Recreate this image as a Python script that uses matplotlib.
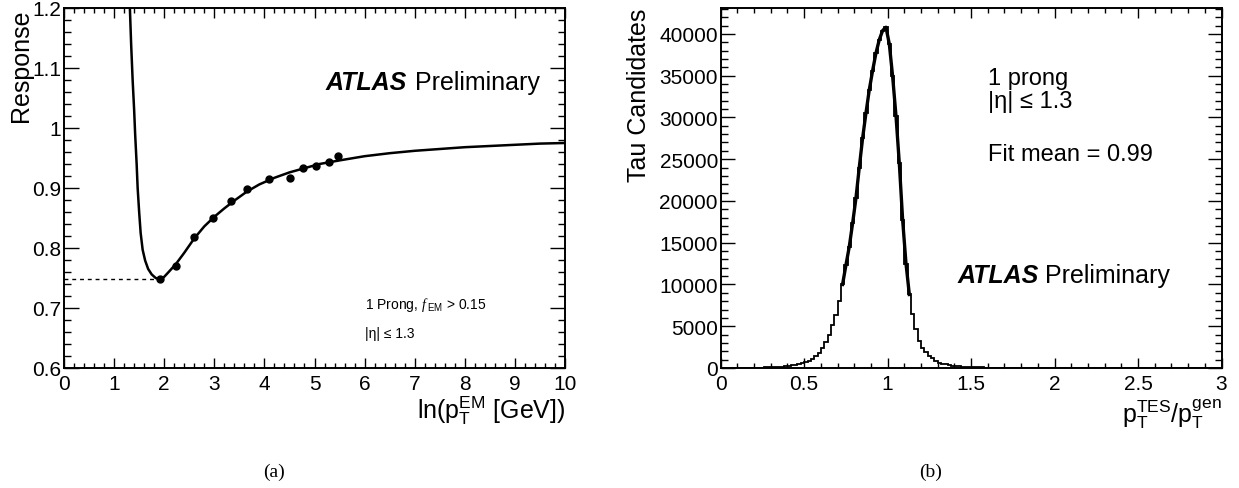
import numpy as np
import matplotlib
matplotlib.use("Agg")
import matplotlib.pyplot as plt
from matplotlib.ticker import MultipleLocator, FormatStrFormatter

plt.rcParams['font.family'] = ['Liberation Sans', 'DejaVu Sans']
plt.rcParams['mathtext.fontset'] = 'custom'
plt.rcParams['mathtext.rm'] = 'Liberation Sans'
plt.rcParams['mathtext.it'] = 'Liberation Serif:italic'

# ---- panel (a): response vs ln(pT EM) ----
fit_x = [1.315, 1.34, 1.37, 1.40, 1.42, 1.45, 1.47, 1.50, 1.53, 1.57, 1.62, 1.68,
         1.75, 1.83, 1.92, 2.00, 2.10, 2.24, 2.40, 2.60, 2.80, 3.00, 3.20, 3.40,
         3.65, 3.90, 4.20, 4.50, 4.80, 5.10, 5.50, 6.00, 6.50, 7.00, 7.50, 8.00,
         8.50, 9.00, 9.50, 10.0]
fit_y = [1.20, 1.14, 1.08, 1.03, 0.99, 0.94, 0.90, 0.86, 0.825, 0.797, 0.779, 0.765,
         0.756, 0.750, 0.7475, 0.752, 0.761, 0.774, 0.792, 0.816, 0.836, 0.852, 0.866, 0.879,
         0.894, 0.906, 0.917, 0.926, 0.933, 0.940, 0.946, 0.953, 0.958, 0.962, 0.965, 0.968,
         0.970, 0.972, 0.974, 0.975]

pts_x = [1.92, 2.24, 2.60, 2.98, 3.33, 3.65, 4.10, 4.51, 4.78, 5.03, 5.28, 5.47]
pts_y = [0.748, 0.770, 0.818, 0.850, 0.878, 0.898, 0.915, 0.917, 0.933, 0.937, 0.943, 0.954]

min_x = 1.92
min_y = 0.748

# ---- panel (b): pT(TES)/pT(gen) histogram, bin width 0.02 from 0 to 3 ----
counts = [0, 0, 0, 0, 0, 2, 5, 10, 15, 20,
          28, 35, 45, 60, 75, 90, 110, 140, 175, 220,
          270, 330, 400, 480, 580, 700, 870, 1100, 1420, 1850,
          2400, 3100, 4000, 5100, 6400, 8000, 10000, 12300, 14500, 17300,
          20300, 24000, 27500, 30500, 33300, 35600, 37700, 39300, 40400, 40800,
          38800, 34900, 30200, 24500, 17700, 12500, 8800, 6470, 4680, 3270,
          2360, 1880, 1470, 1160, 880, 650, 520, 420, 350, 290,
          240, 200, 170, 140, 120, 100, 85, 70, 60, 50,
          45, 40, 35, 30, 26, 22, 19, 16, 14, 12,
          10, 9, 8, 7, 6, 5, 5, 4, 4, 3,
          3, 3, 2, 2, 2, 2, 1, 1, 1, 1] + [0] * 40
fit_first, fit_last = 36, 56   # bins covered by the gaussian fit

W, H = 1239, 489
fig = plt.figure(figsize=(W / 100, H / 100), dpi=100)

def style_axes(ax, ylen):
    ax.tick_params(which='both', direction='in', top=True, right=True,
                   labelsize=15, width=1.0, color='black')
    ax.tick_params(axis='x', which='major', length=7.2, pad=4)
    ax.tick_params(axis='x', which='minor', length=3.6)
    ax.tick_params(axis='y', which='major', length=ylen, pad=2)
    ax.tick_params(axis='y', which='minor', length=ylen / 2)
    for s in ax.spines.values():
        s.set_linewidth(1.4)

# panel (a)
ax1 = fig.add_axes([64 / W, 1 - 369 / H, 501 / W, 360 / H])
ax1.plot([0, min_x], [min_y, min_y], color='black', lw=1.0, ls=(0, (2.8, 2.8)))
ax1.plot(fit_x, fit_y, color='black', lw=1.8)
ax1.plot(pts_x, pts_y, 'o', color='black', ms=5)
ax1.set_xlim(0, 10)
ax1.set_ylim(0.6, 1.2)
ax1.xaxis.set_major_locator(MultipleLocator(1))
ax1.xaxis.set_minor_locator(MultipleLocator(0.2))
ax1.yaxis.set_major_locator(MultipleLocator(0.1))
ax1.yaxis.set_minor_locator(MultipleLocator(0.02))
ax1.yaxis.set_major_formatter(FormatStrFormatter('%g'))
style_axes(ax1, 10.5)
ax1.set_ylabel('Response', fontsize=18, loc='top')
ax1.yaxis.set_label_coords(-0.062, 1.0)
ax1.set_xlabel(r'ln($\mathrm{p}_\mathrm{T}^\mathrm{EM}$ [GeV])', fontsize=18, loc='right')
ax1.xaxis.set_label_coords(1.0, -0.072)
ax1.text(5.21, 1.065, 'ATLAS', fontsize=18, fontweight='bold', style='italic')
ax1.text(7.0, 1.065, 'Preliminary', fontsize=18)
ax1.text(6.0, 0.6995, r'1 Prong, $\mathit{f}_{\ \mathrm{EM}}$ > 0.15', fontsize=10)
ax1.text(6.0, 0.651, '|η| ≤ 1.3', fontsize=10)

# panel (b)
edges = np.linspace(0, 3, len(counts) + 1)
centers = (edges[:-1] + edges[1:]) / 2
ax2 = fig.add_axes([720.7 / W, 1 - 369 / H, 500.8 / W, 360 / H])
ax2.stairs(counts, edges, color='black', lw=1.3)
ax2.plot(centers[fit_first:fit_last + 1], counts[fit_first:fit_last + 1],
         color='black', lw=2.4)
ax2.set_xlim(0, 3)
ax2.set_ylim(0, 43100)
ax2.xaxis.set_major_locator(MultipleLocator(0.5))
ax2.xaxis.set_minor_locator(MultipleLocator(0.1))
ax2.yaxis.set_major_locator(MultipleLocator(5000))
ax2.yaxis.set_minor_locator(MultipleLocator(1000))
ax2.xaxis.set_major_formatter(FormatStrFormatter('%g'))
style_axes(ax2, 10.3)
ax2.set_ylabel('Tau Candidates', fontsize=18, loc='top')
ax2.yaxis.set_label_coords(-0.14, 1.0)
ax2.set_xlabel(r'$\mathrm{p}_\mathrm{T}^\mathrm{TES}$/$\mathrm{p}_\mathrm{T}^\mathrm{gen}$',
               fontsize=18, loc='right')
ax2.xaxis.set_label_coords(1.0, -0.08)
ax2.text(1.599, 34000, '1 prong', fontsize=17)
ax2.text(1.599, 31200, '|η| ≤ 1.3', fontsize=17)
ax2.text(1.599, 24860, 'Fit mean = 0.99', fontsize=17)
ax2.text(1.42, 10280, 'ATLAS', fontsize=18, fontweight='bold', style='italic')
ax2.text(1.94, 10280, 'Preliminary', fontsize=18)

# sub-figure captions
fig.text(274 / W, 1 - 472 / H, '(a)', fontsize=14, family='Liberation Serif',
         ha='center', va='center')
fig.text(931 / W, 1 - 472 / H, '(b)', fontsize=14, family='Liberation Serif',
         ha='center', va='center')

fig.savefig('out.png', dpi=100)
